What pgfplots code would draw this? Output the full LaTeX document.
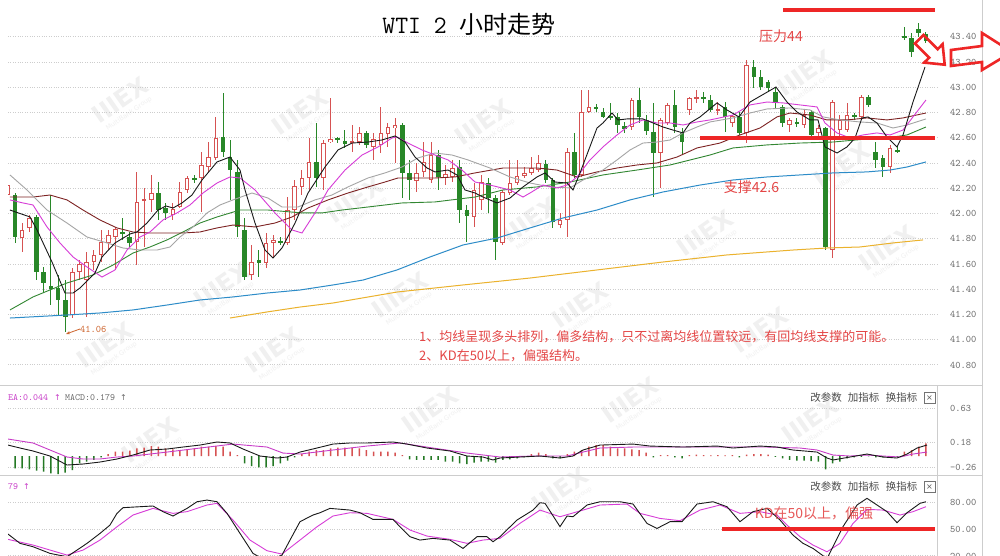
\documentclass[border=0pt]{standalone}
\usepackage{pgfplots}
\pgfplotsset{compat=1.18}
\usepackage{pgfplotstable}
\usepackage{fontspec}
\usetikzlibrary{arrows.meta}
\newfontfamily\cjk{Noto Sans CJK SC}
\newfontfamily\dejavu{DejaVu Sans}
\definecolor{cred}{RGB}{214,82,82}
\definecolor{cgreen}{RGB}{40,135,40}
\definecolor{ma5}{RGB}{25,25,25}
\definecolor{ma10}{RGB}{215,60,215}
\definecolor{ma20}{RGB}{165,165,165}
\definecolor{ma30}{RGB}{125,35,35}
\definecolor{ma60}{RGB}{50,135,50}
\definecolor{ma120}{RGB}{45,140,200}
\definecolor{ma200}{RGB}{235,178,45}
\definecolor{annred}{RGB}{228,70,70}
\definecolor{linered}{RGB}{238,38,38}
\definecolor{tickgray}{RGB}{105,105,105}
\definecolor{gridgray}{RGB}{205,205,205}
\definecolor{framegray}{RGB}{205,205,205}
\definecolor{macdmag}{RGB}{200,60,200}
\definecolor{lowlab}{RGB}{205,100,45}

\pgfplotstableread{
i O H L C
-1 42.147 42.266 42.108 42.226
1 41.806 41.925 41.695 41.870
2 41.886 41.989 41.854 41.965
8 41.196 41.569 41.172 41.537
9 41.537 41.632 41.473 41.600
10 41.473 41.695 41.180 41.616
11 41.616 41.711 41.553 41.672
12 41.672 41.870 41.616 41.775
13 41.767 41.870 41.711 41.830
14 41.814 41.894 41.553 41.878
17 41.775 42.330 41.592 42.092
18 42.100 42.203 41.735 42.116
19 42.108 42.306 42.013 42.163
22 41.989 42.084 41.949 42.036
23 42.052 42.250 42.044 42.171
24 42.187 42.298 42.163 42.282
26 42.282 42.488 42.013 42.385
27 42.369 42.567 42.330 42.448
28 42.441 42.766 42.425 42.599
33 41.513 41.751 41.473 41.616
35 41.608 41.846 41.569 41.767
36 41.767 41.830 41.656 41.791
38 41.767 42.131 41.751 42.028
39 42.028 42.266 41.949 42.219
40 42.211 42.345 42.147 42.282
41 42.282 42.599 42.187 42.409
43 42.282 42.583 42.187 42.559
44 42.567 42.916 42.559 42.591
47 42.559 42.702 42.488 42.575
48 42.567 42.686 42.544 42.639
50 42.528 42.639 42.425 42.591
51 42.544 42.845 42.480 42.639
52 42.631 42.718 42.528 42.686
53 42.678 42.758 42.401 42.702
56 42.258 42.401 42.171 42.322
57 42.330 42.567 42.290 42.409
58 42.266 42.567 42.242 42.464
60 42.282 42.385 42.226 42.314
61 42.290 42.425 42.250 42.361
64 41.973 42.242 41.894 42.187
65 42.108 42.306 42.028 42.250
68 41.767 42.187 41.751 42.171
69 42.163 42.425 42.147 42.242
70 42.242 42.425 42.226 42.298
71 42.298 42.369 42.282 42.322
72 42.322 42.448 42.306 42.361
73 42.345 42.464 42.330 42.401
76 41.909 42.005 41.886 41.949
77 41.949 42.520 41.814 42.488
79 42.306 42.980 42.290 42.805
80 42.805 42.980 42.797 42.845
86 42.686 42.916 42.662 42.900
90 42.480 42.758 42.203 42.742
91 42.718 42.877 42.702 42.861
94 42.821 42.924 42.781 42.916
95 42.908 42.980 42.877 42.924
98 42.813 42.884 42.781 42.829
100 42.718 42.781 42.686 42.774
102 42.639 43.217 42.559 43.178
108 42.702 42.758 42.647 42.742
110 42.702 42.821 42.678 42.781
112 42.639 42.702 42.583 42.678
114 41.711 42.900 41.648 42.884
115 42.662 42.781 42.607 42.742
116 42.662 42.877 42.647 42.781
118 42.766 42.940 42.758 42.924
122 42.369 42.544 42.322 42.520
}\upc

\pgfplotstableread{
i O H L C
0 42.147 42.163 41.767 41.814
3 41.973 41.989 41.473 41.537
4 41.537 41.576 41.370 41.450
5 41.426 42.147 41.275 41.402
6 41.410 41.513 41.196 41.315
7 41.315 41.473 41.060 41.180
15 41.854 41.965 41.791 41.838
16 41.814 41.854 41.735 41.767
20 42.163 42.250 41.949 42.028
21 42.044 42.084 41.949 42.005
25 42.282 42.306 42.242 42.266
29 42.607 42.956 42.448 42.488
30 42.448 42.583 42.108 42.345
31 42.330 42.425 41.814 41.894
32 41.870 41.965 41.473 41.497
34 41.632 41.711 41.497 41.608
37 41.783 41.814 41.751 41.767
42 42.409 42.718 42.211 42.282
45 42.599 42.607 42.559 42.583
46 42.575 42.662 42.520 42.551
49 42.639 42.655 42.520 42.544
54 42.702 42.718 42.123 42.322
55 42.322 42.425 42.108 42.266
59 42.464 42.504 42.187 42.290
62 42.369 42.425 41.925 42.028
63 42.028 42.068 41.775 41.981
66 42.242 42.282 42.005 42.123
67 42.123 42.147 41.632 41.775
74 42.393 42.425 42.242 42.266
75 42.266 42.282 41.886 41.933
78 42.488 42.639 42.282 42.306
81 42.845 42.869 42.805 42.829
82 42.805 42.837 42.758 42.766
83 42.774 42.877 42.742 42.758
84 42.766 42.797 42.639 42.702
85 42.694 42.726 42.639 42.670
87 42.900 42.995 42.718 42.766
88 42.742 42.781 42.623 42.655
89 42.647 42.877 42.131 42.480
92 42.861 42.980 42.639 42.686
93 42.639 42.678 42.464 42.567
96 42.924 42.964 42.877 42.908
97 42.900 42.940 42.805 42.821
99 42.845 42.884 42.647 42.766
101 42.766 42.805 42.623 42.639
103 43.162 43.217 42.995 43.083
104 43.083 43.138 42.980 43.003
105 43.043 43.059 42.964 42.995
106 42.964 43.003 42.837 42.877
107 42.845 42.861 42.686 42.718
109 42.726 42.758 42.686 42.710
111 42.805 42.821 42.607 42.623
113 42.678 42.686 41.711 41.735
117 42.781 42.797 42.742 42.766
119 42.924 42.940 42.845 42.861
120 42.488 42.567 42.361 42.425
121 42.441 42.464 42.290 42.369
123 42.504 42.536 42.480 42.488
124 43.408 43.479 43.376 43.396
125 43.392 43.431 43.241 43.281
126 43.463 43.511 43.400 43.431
127 43.423 43.439 43.352 43.368
}\dnc

\pgfplotstableread{
i v
13 0.026
14 0.057
15 0.057
16 0.070
17 0.100
18 0.110
19 0.130
20 0.122
21 0.100
22 0.087
23 0.079
24 0.092
25 0.100
26 0.122
27 0.122
28 0.131
29 0.122
30 0.057
31 0.013
40 0.026
41 0.057
42 0.079
43 0.079
44 0.100
45 0.109
46 0.109
47 0.109
48 0.100
49 0.079
50 0.057
51 0.057
52 0.057
53 0.044
54 0.013
72 0.026
73 0.044
74 0.026
77 0.026
78 0.057
79 0.079
80 0.122
81 0.144
82 0.144
83 0.122
84 0.100
85 0.100
86 0.087
87 0.079
88 0.044
90 0.013
91 0.013
94 0.013
95 0.017
96 0.013
97 0.009
98 0.013
99 0.009
100 0.013
102 0.017
103 0.026
104 0.026
105 0.017
124 0.057
125 0.079
126 0.122
127 0.166
}\mpos

\pgfplotstableread{
i v
0 -0.162
1 -0.162
2 -0.175
3 -0.190
4 -0.205
5 -0.227
6 -0.236
7 -0.219
8 -0.184
9 -0.096
10 -0.074
11 -0.052
12 -0.018
32 -0.096
33 -0.131
34 -0.149
35 -0.149
36 -0.131
37 -0.096
38 -0.061
39 -0.018
55 -0.044
56 -0.052
57 -0.052
58 -0.052
59 -0.052
60 -0.074
61 -0.074
62 -0.096
63 -0.105
64 -0.087
65 -0.074
66 -0.074
67 -0.087
68 -0.052
69 -0.044
70 -0.030
71 -0.018
75 -0.030
76 -0.030
89 -0.018
92 -0.018
93 -0.030
101 -0.018
106 -0.010
107 -0.030
108 -0.052
109 -0.061
110 -0.061
111 -0.066
112 -0.074
113 -0.175
114 -0.096
115 -0.074
116 -0.030
117 -0.018
118 -0.010
119 -0.006
120 -0.018
121 -0.018
122 -0.018
123 -0.010
}\mneg

\pgfplotsset{
  panel/.style={
    scale only axis, width=929pt,
    xmin=-0.976, xmax=128.54, xtick=\empty,
    axis line style={draw=none}, tick style={draw=none},
    yticklabel pos=right,
    ymajorgrids,
    grid style={dotted, gridgray, line width=1pt},
    yticklabel style={font=\ttfamily\fontsize{10}{10}\selectfont, text=tickgray, anchor=west, xshift=9.5pt},
    /pgf/number format/assume math mode=true,
  },
  wick/.style={draw=none, mark=none, error bars/.cd, y dir=both, y explicit, error mark=none, error bar style={draw=#1, line width=1pt}},
  body/.style 2 args={draw=none, mark=none, error bars/.cd, y dir=both, y explicit, error mark=none, error bar style={draw=#1, line width=#2}},
}

\newcommand{\wm}[2]{%
  \node[rotate=35, text=black!6, font=\dejavu\bfseries\fontsize{24}{24}\selectfont] at (#1,#2) {IIIEX};
  \node[rotate=35, text=black!6, font=\dejavu\fontsize{6.5}{6.5}\selectfont] at ({#1+9},{#2+14}) {MultiBank Group};}

\begin{document}
\begin{tikzpicture}
\useasboundingbox (0pt,0pt) rectangle (1000pt,556pt);
\fill[white] (0pt,0pt) rectangle (1000pt,556pt);

% ---------- watermarks ----------
\begin{scope}[shift={(0pt,556pt)}, x=1pt, y=-1pt]
\wm{120}{100}\wm{300}{112}\wm{483}{122}\wm{805}{73}\wm{842}{165}
\wm{222}{285}\wm{105}{345}\wm{273}{350}\wm{355}{200}\wm{530}{220}
\wm{400}{295}\wm{580}{305}\wm{705}{233}\wm{887}{248}\wm{760}{330}
\wm{150}{440}\wm{430}{410}\wm{630}{400}\wm{810}{420}\wm{560}{490}
\end{scope}

% ---------- main price panel ----------
\begin{axis}[panel, at={(8pt,173pt)}, anchor=south west, height=380pt,
  ymin=40.657, ymax=43.669,
  ytick={40.8,41,41.2,41.4,41.6,41.8,42,42.2,42.4,42.6,42.8,43,43.2,43.4},
  yticklabel style={/pgf/number format/fixed, /pgf/number format/fixed zerofill, /pgf/number format/precision=2}]

\addplot[wick=cred] table[x=i, y expr={(\thisrow{H}+\thisrow{L})/2}, y error expr={(\thisrow{H}-\thisrow{L})/2}] {\upc};
\addplot[wick=cgreen] table[x=i, y expr={(\thisrow{H}+\thisrow{L})/2}, y error expr={(\thisrow{H}-\thisrow{L})/2}] {\dnc};
\addplot[body={cred}{4.6pt}] table[x=i, y expr={(\thisrow{O}+\thisrow{C})/2}, y error expr={abs(\thisrow{C}-\thisrow{O})/2}] {\upc};
\addplot[body={white}{2.6pt}] table[x=i, y expr={(\thisrow{O}+\thisrow{C})/2}, y error expr={max(abs(\thisrow{C}-\thisrow{O})/2-0.008,0)}] {\upc};
\addplot[body={cgreen}{4.6pt}] table[x=i, y expr={(\thisrow{O}+\thisrow{C})/2}, y error expr={abs(\thisrow{C}-\thisrow{O})/2}] {\dnc};

\addplot[ma200, line width=1pt] coordinates {(29.97,41.172) (35.13,41.220) (39.73,41.259) (44.33,41.291) (53.26,41.378) (62.46,41.434) (71.80,41.489) (81.14,41.553) (90.34,41.616) (99.26,41.672) (108.46,41.711) (113.20,41.727) (117.80,41.735) (122.40,41.767) (126.59,41.791)};
\addplot[ma120, line width=1pt] coordinates {(-0.7,41.172) (7.25,41.196) (11.85,41.212) (16.45,41.236) (21.19,41.275) (25.79,41.315) (30.39,41.339) (35.13,41.370) (39.73,41.394) (44.33,41.434) (48.52,41.473) (53.26,41.553) (57.86,41.656) (62.46,41.751) (67.20,41.806) (71.80,41.886) (76.40,41.965) (81.14,42.028) (85.74,42.108) (90.34,42.171) (95.50,42.226) (100.10,42.266) (104.84,42.290) (109.44,42.306) (114.04,42.322) (118.78,42.330) (121.99,42.345) (124.36,42.369) (127.0,42.409)};
\addplot[ma60, line width=0.9pt] coordinates {(-0.7,41.236) (2.51,41.339) (7.25,41.450) (10.87,41.513) (13.66,41.592) (16.45,41.687) (18.82,41.735) (21.19,41.791) (23.42,41.854) (25.79,41.925) (28.16,41.973) (31.37,42.028) (35.27,42.028) (40.01,42.005) (42.80,42.005) (45.59,42.028) (49.21,42.052) (53.95,42.084) (58.55,42.092) (64.13,42.131) (68.03,42.187) (72.77,42.211) (77.37,42.250) (81.97,42.306) (86.71,42.345) (91.32,42.385) (96.89,42.464) (100.10,42.520) (104.84,42.544) (109.44,42.559) (114.04,42.567) (118.78,42.591) (121.57,42.599) (124.36,42.623) (127.0,42.686)};
\addplot[ma30, line width=0.9pt] coordinates {(-0.7,42.131) (2.51,42.131) (4.88,42.147) (7.25,42.108) (9.48,42.028) (11.85,41.949) (14.22,41.886) (16.45,41.854) (18.82,41.846) (21.19,41.846) (23.42,41.846) (25.79,41.854) (28.16,41.886) (30.39,41.909) (33.46,41.894) (36.25,41.925) (38.62,41.973) (40.85,42.044) (43.64,42.108) (46.42,42.163) (49.21,42.211) (51.58,42.250) (53.39,42.282) (56.18,42.282) (58.55,42.282) (61.34,42.290) (64.13,42.322) (68.03,42.361) (72.77,42.361) (75.56,42.345) (78.35,42.290) (81.14,42.330) (83.93,42.361) (86.71,42.385) (89.50,42.401) (92.29,42.448) (95.08,42.520) (98.29,42.559) (101.07,42.623) (103.86,42.678) (106.23,42.766) (108.04,42.797) (110.83,42.781) (113.20,42.742) (115.99,42.742) (118.78,42.758) (121.57,42.742) (123.80,42.758) (127.0,42.797)};
\addplot[ma20, line width=0.9pt] coordinates {(-0.7,42.306) (1.67,42.187) (4.46,42.028) (7.25,41.925) (10.04,41.814) (12.83,41.767) (15.06,41.727) (17.43,41.711) (19.80,41.711) (21.61,41.735) (23.00,41.814) (24.82,41.894) (26.77,42.005) (28.58,42.068) (30.39,42.108) (33.04,42.163) (35.27,42.123) (37.22,42.052) (39.45,42.052) (41.82,42.108) (44.19,42.147) (46.42,42.211) (49.21,42.282) (51.58,42.322) (53.95,42.369) (56.18,42.441) (58.55,42.480) (60.92,42.464) (63.15,42.425) (66.22,42.361) (69.01,42.290) (71.80,42.242) (74.59,42.211) (77.37,42.203) (79.19,42.266) (81.97,42.345) (83.93,42.425) (85.74,42.504) (87.55,42.559) (89.50,42.567) (91.32,42.583) (93.13,42.639) (95.08,42.686) (96.89,42.726) (100.10,42.758) (102.47,42.797) (104.84,42.829) (108.04,42.837) (110.83,42.821) (112.65,42.766) (115.01,42.742) (117.80,42.726) (120.17,42.718) (122.40,42.678) (124.36,42.702) (127.0,42.750)};
\addplot[ma10, line width=0.9pt] coordinates {(-0.7,42.108) (1.12,42.084) (2.51,42.068) (4.46,41.894) (6.27,41.767) (8.09,41.656) (10.04,41.576) (12.13,41.497) (13.94,41.553) (15.61,41.711) (17.43,41.814) (18.82,41.854) (20.63,41.949) (22.58,42.005) (24.40,42.068) (26.21,42.163) (28.16,42.242) (29.97,42.290) (31.37,42.282) (33.46,42.187) (36.25,42.005) (38.62,41.870) (40.01,41.846) (41.82,42.005) (43.64,42.187) (46.01,42.345) (48.38,42.464) (50.61,42.528) (52.56,42.599) (53.26,42.607) (54.79,42.559) (56.74,42.504) (58.55,42.464) (60.37,42.425) (62.32,42.345) (64.13,42.250) (66.22,42.226) (69.01,42.187) (70.82,42.131) (71.80,42.163) (73.61,42.226) (75.56,42.203) (76.96,42.226) (78.35,42.290) (80.16,42.425) (81.97,42.528) (83.93,42.623) (85.74,42.702) (87.55,42.742) (89.50,42.718) (91.32,42.718) (93.13,42.702) (95.08,42.726) (96.89,42.742) (100.10,42.781) (102.47,42.861) (104.84,42.884) (107.07,42.877) (109.44,42.861) (111.81,42.845) (112.92,42.718) (114.60,42.639) (116.41,42.599) (118.22,42.623) (120.17,42.639) (121.99,42.623) (123.80,42.662) (125.19,42.766) (127.0,42.900)};
\addplot[ma5, line width=0.9pt] coordinates {(-0.7,42.028) (2.09,41.973) (3.07,41.870) (5.16,41.616) (6.97,41.370) (8.09,41.370) (9.06,41.410) (11.15,41.529) (12.13,41.656) (13.94,41.767) (16.03,41.838) (17.01,41.854) (18.40,41.925) (19.94,42.028) (21.05,42.060) (22.03,42.044) (23.28,42.084) (24.68,42.147) (26.07,42.266) (28.16,42.409) (29.97,42.448) (31.37,42.345) (32.07,42.187) (33.46,41.925) (34.85,41.711) (35.97,41.648) (37.22,41.727) (39.04,41.925) (40.85,42.163) (43.22,42.369) (45.03,42.504) (46.98,42.559) (49.21,42.567) (51.16,42.583) (52.98,42.615) (54.37,42.567) (55.77,42.448) (57.44,42.361) (58.55,42.330) (60.37,42.345) (61.62,42.306) (62.73,42.187) (64.13,42.163) (65.24,42.131) (67.20,42.084) (69.01,42.123) (70.82,42.211) (72.77,42.290) (73.89,42.322) (75.28,42.250) (76.96,42.242) (77.79,42.187) (78.77,42.322) (81.14,42.678) (81.97,42.718) (83.23,42.797) (84.07,42.742) (85.32,42.750) (87.55,42.750) (88.95,42.718) (90.34,42.686) (91.73,42.662) (93.13,42.639) (94.10,42.718) (95.50,42.766) (97.87,42.877) (99.26,42.821) (100.93,42.766) (102.47,42.884) (106.09,43.003) (107.63,42.884) (109.02,42.805) (110.83,42.742) (111.95,42.742) (112.92,42.528) (114.60,42.480) (115.99,42.528) (117.11,42.599) (118.08,42.758) (118.92,42.766) (120.17,42.718) (121.57,42.607) (122.96,42.528) (123.80,42.623) (125.19,42.884) (126.87,43.162)};

\addplot[linered, line width=4pt] coordinates {(107.07,43.614) (128.26,43.614)};
\addplot[linered, line width=4.5pt] coordinates {(95.5,42.599) (128.26,42.599)};
\end{axis}

% ---------- MACD panel ----------
\begin{axis}[panel, at={(8pt,81pt)}, anchor=south west, height=88pt,
  ymin=-0.249, ymax=0.906,
  ytick={-0.155,0.18,0.63}, yticklabels={-0.26,0.18,0.63}]
\addplot[ybar, bar width=1.5pt, bar shift=0pt, fill=cred, draw=none] table[x=i, y=v] {\mpos};
\addplot[ybar, bar width=1.5pt, bar shift=0pt, fill=cgreen!90!black, draw=none] table[x=i, y=v] {\mneg};
\addplot[macdmag, line width=0.9pt] coordinates {(-0.98,0.223) (2.51,0.171) (7.25,-0.013) (9.48,-0.039) (11.85,-0.039) (14.22,-0.013) (16.45,0.0) (21.19,0.052) (25.79,0.105) (30.39,0.157) (35.13,0.118) (37.36,0.039) (39.73,0.026) (44.33,0.079) (49.07,0.131) (53.67,0.171) (58.27,0.105) (63.01,0.039) (67.61,-0.013) (72.22,0.0) (76.96,0.0) (79.19,0.052) (81.56,0.105) (86.16,0.118) (95.50,0.118) (104.84,0.118) (109.44,0.105) (111.81,0.079) (114.04,0.013) (116.41,0.0) (118.78,0.013) (121.01,0.0) (123.38,-0.013) (125.19,0.026) (127.14,0.052)};
\addplot[ma5, line width=0.9pt] coordinates {(-0.98,0.144) (0.70,0.105) (2.51,0.066) (4.88,0.0) (7.25,-0.118) (9.48,-0.105) (11.85,-0.079) (14.22,-0.039) (16.45,0.013) (18.82,0.079) (21.19,0.092) (23.42,0.118) (25.79,0.144) (28.16,0.184) (29.97,0.171) (31.79,0.092) (34.16,0.0) (36.53,-0.026) (37.92,-0.013) (39.73,0.052) (42.10,0.105) (44.33,0.157) (46.70,0.171) (49.07,0.171) (52.70,0.184) (54.65,0.157) (57.44,0.105) (60.64,0.066) (63.01,0.0) (65.24,-0.013) (66.64,-0.052) (67.61,-0.026) (70.40,-0.013) (73.19,0.0) (75.98,-0.026) (77.79,0.0) (79.19,0.079) (81.56,0.144) (86.16,0.157) (88.53,0.131) (93.13,0.118) (97.87,0.131) (100.10,0.105) (103.86,0.131) (106.23,0.118) (108.46,0.079) (111.81,0.052) (113.20,-0.026) (114.04,-0.052) (116.41,-0.013) (118.78,0.026) (121.01,-0.013) (122.96,-0.026) (124.36,0.026) (125.75,0.105) (127.14,0.144)};
\end{axis}

% ---------- KD panel ----------
\begin{axis}[panel, at={(8pt,-17.7pt)}, anchor=south west, height=97.7pt,
  ymin=0, ymax=110.1, ytick={20,50,80},
  yticklabel style={/pgf/number format/fixed, /pgf/number format/fixed zerofill, /pgf/number format/precision=2}]
\addplot[ma10, line width=0.9pt] coordinates {(-0.98,38.7) (2.51,32.3) (7.25,21.0) (9.48,26.6) (11.85,37.9) (14.22,52.9) (16.45,66.1) (19.24,73.6) (22.03,68.0) (23.98,69.9) (26.77,77.4) (28.16,79.3) (30.39,60.5) (32.76,37.9) (35.13,25.9) (37.22,22.1) (39.73,37.9) (42.10,52.9) (44.33,65.0) (46.70,68.7) (49.07,68.0) (52.70,61.2) (55.07,49.2) (57.44,42.4) (60.64,38.7) (63.01,34.2) (65.24,37.9) (67.61,39.8) (70.40,56.7) (73.19,71.7) (75.98,64.2) (79.19,71.7) (81.56,77.4) (85.32,78.5) (87.13,68.0) (89.92,62.3) (92.71,59.7) (95.50,71.7) (98.29,77.4) (101.07,68.0) (103.86,69.9) (106.23,66.1) (107.63,54.8) (109.44,41.7) (111.25,32.3) (113.20,24.7) (115.01,34.2) (116.83,56.7) (118.78,72.5) (121.01,71.7) (123.38,66.1) (125.19,69.9) (127.0,75.5)};
\addplot[ma5, line width=0.9pt] coordinates {(-0.98,44.7) (0.70,34.2) (2.51,30.4) (4.88,22.9) (7.25,19.1) (8.64,26.6) (10.04,34.2) (11.85,45.4) (13.24,54.8) (14.22,68.0) (15.06,74.4) (17.43,75.5) (19.24,76.3) (20.63,69.9) (22.03,65.0) (23.98,73.6) (25.37,81.1) (26.77,83.0) (28.16,81.1) (29.56,68.0) (31.37,45.4) (33.18,22.9) (35.13,14.0) (37.22,21.0) (38.34,37.9) (39.73,58.6) (41.54,66.1) (42.52,68.7) (43.91,73.6) (46.70,71.7) (48.10,68.7) (49.91,61.2) (52.70,61.2) (53.67,52.9) (55.07,41.7) (56.46,37.9) (58.27,39.8) (60.64,37.9) (62.46,28.5) (64.41,41.7) (65.80,41.7) (66.64,36.0) (67.61,41.7) (69.99,60.5) (72.22,71.7) (73.19,80.0) (73.89,79.3) (75.98,53.0) (76.96,65.0) (77.79,64.2) (79.75,77.4) (81.56,81.1) (84.35,81.1) (86.16,78.5) (88.11,56.7) (89.50,51.0) (91.32,58.6) (92.99,58.6) (95.08,78.5) (97.31,81.1) (99.26,75.5) (101.07,58.6) (102.89,69.9) (104.84,73.6) (106.65,60.5) (108.46,43.5) (109.86,34.2) (111.25,28.5) (113.20,17.0) (114.04,30.4) (115.43,53.0) (117.39,77.4) (118.78,84.9) (120.17,77.4) (121.57,69.9) (122.96,57.5) (124.36,68.7) (126.17,79.3) (127.0,81.1)};
\addplot[linered, line width=4pt] coordinates {(98.57,50) (128.26,50)};
\end{axis}

% ---------- frame, texts, annotations (pixel coordinates, y downward) ----------
\begin{scope}[shift={(0pt,556pt)}, x=1pt, y=-1pt]
\draw[framegray, line width=1pt] (0,386) -- (982,386);
\draw[framegray, line width=1pt] (0,476) -- (982,476);
\draw[framegray, line width=1pt] (937,386) -- (937,556);
\draw[framegray, line width=1pt] (982,0) -- (982,556);

\node at (469,24) {{\ttfamily\fontsize{25}{25}\selectfont WTI 2 }{\cjk\fontsize{24}{24}\selectfont 小时走势}};

\node[text=annred, font=\cjk\fontsize{14}{14}\selectfont] at (781,36) {压力44};
\node[text=annred, font=\cjk\fontsize{14}{14}\selectfont] at (751.5,187) {支撑42.6};
\node[anchor=west, inner sep=0, text=annred, font=\cjk\fontsize{13}{13}\selectfont] at (419,337) {1、均线呈现多头排列，偏多结构，只不过离均线位置较远，有回均线支撑的可能。};
\node[anchor=west, inner sep=0, text=annred, font=\cjk\fontsize{13}{13}\selectfont] at (419,356) {2、KD在50以上，偏强结构。};
\node[text=annred, text opacity=0.9, font=\cjk\fontsize{14}{14}\selectfont] at (814,513) {KD在50以上，偏强};

\draw[lowlab, line width=0.8pt, -{Stealth[length=4pt,width=3pt]}] (80,329) -- (66,334);
\node[anchor=west, inner sep=0, text=lowlab, font=\ttfamily\fontsize{10}{10}\selectfont] at (80,329) {41.06};

\draw[linered, line width=2.6pt, line join=miter] (944.7,64.7) -- (942.6,44.2) -- (937.7,49.2) -- (923.5,35.0) -- (915.0,43.5) -- (929.2,57.7) -- (924.2,62.6) -- cycle;
\draw[linered, line width=2.6pt, line join=miter] (951,50) -- (982,46) -- (982,33) -- (1012,52) -- (982,70) -- (982,62) -- (951,66) -- cycle;

\node[anchor=west, inner sep=0, text=macdmag, font=\ttfamily\fontsize{9.5}{9.5}\selectfont] at (8,398) {EA:0.044};
\node[anchor=west, inner sep=0, text=macdmag, font=\dejavu\fontsize{8}{8}\selectfont] at (54,398) {↑};
\node[anchor=west, inner sep=0, text=tickgray, font=\ttfamily\fontsize{9.5}{9.5}\selectfont] at (65,398) {MACD:0.179};
\node[anchor=west, inner sep=0, text=tickgray, font=\dejavu\fontsize{8}{8}\selectfont] at (120,398) {↑};
\node[anchor=west, inner sep=0, text=macdmag, font=\ttfamily\fontsize{9.5}{9.5}\selectfont] at (8,487) {79};
\node[anchor=west, inner sep=0, text=macdmag, font=\dejavu\fontsize{8}{8}\selectfont] at (23,487) {↑};

\foreach \yy in {398,487} {
  \node[text=black!70, font=\cjk\fontsize{10.5}{10.5}\selectfont] at (826,\yy) {改参数};
  \node[text=black!70, font=\cjk\fontsize{10.5}{10.5}\selectfont] at (863.5,\yy) {加指标};
  \node[text=black!70, font=\cjk\fontsize{10.5}{10.5}\selectfont] at (901.5,\yy) {换指标};
  \draw[black!55, line width=0.7pt] (924,{\yy-5.5}) rectangle (935,{\yy+5.5});
  \node[text=black!65, font=\dejavu\fontsize{8}{8}\selectfont, inner sep=0] at (929.5,\yy) {×};
}
\end{scope}
\end{tikzpicture}
\end{document}
